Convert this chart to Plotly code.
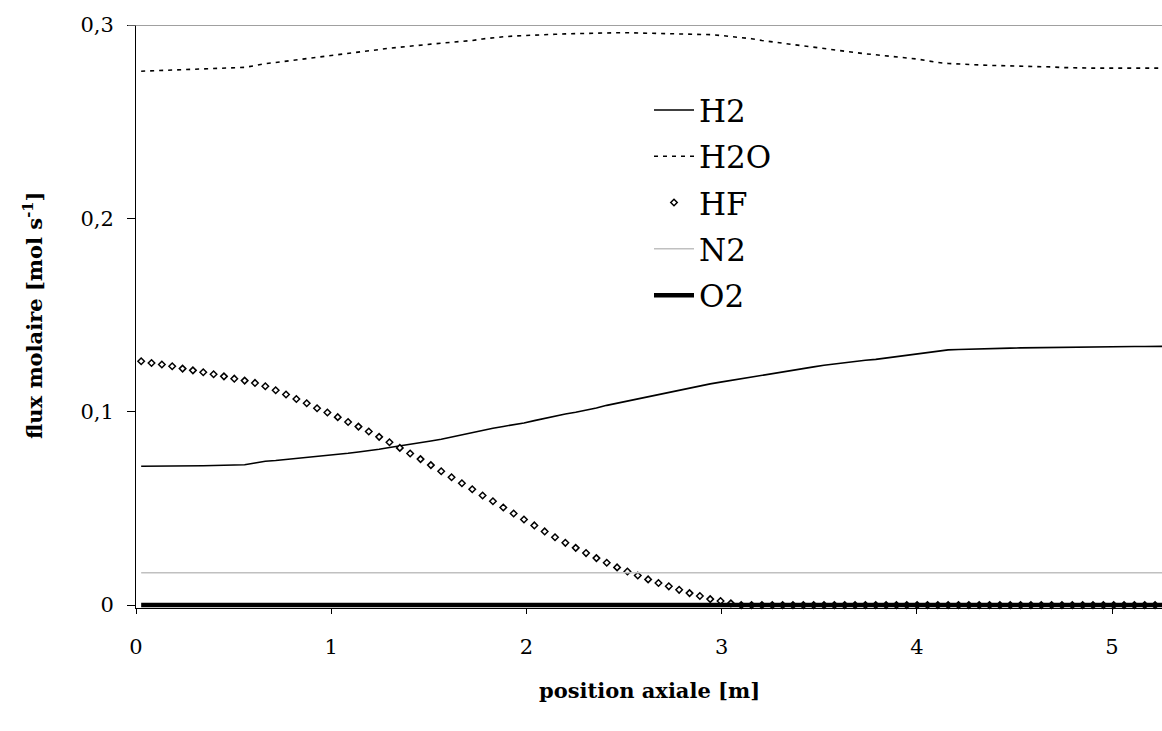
import plotly.graph_objects as go

# axial grid: 100 cells of 0.053 m, values given at the cell centres
cell_length = 0.053
position = [round((i + 0.5) * cell_length, 4) for i in range(100)]

h2 = [0.0718, 0.0718, 0.0719, 0.0719, 0.0720, 0.0720, 0.0721, 0.0722, 0.0723, 0.0724,
      0.0726, 0.0735, 0.0744, 0.0748, 0.0753, 0.0757, 0.0762, 0.0769, 0.0774, 0.0779,
      0.0785, 0.0792, 0.0798, 0.0806, 0.0815, 0.0823, 0.0830, 0.0838, 0.0849, 0.0858,
      0.0870, 0.0881, 0.0892, 0.0904, 0.0915, 0.0924, 0.0932, 0.0942, 0.0954, 0.0966,
      0.0978, 0.0988, 0.0997, 0.1007, 0.1019, 0.1033, 0.1044, 0.1055, 0.1066, 0.1077,
      0.1088, 0.1100, 0.1111, 0.1122, 0.1135, 0.1144, 0.1153, 0.1162, 0.1171, 0.1180,
      0.1190, 0.1199, 0.1207, 0.1216, 0.1225, 0.1232, 0.1240, 0.1247, 0.1254, 0.1261,
      0.1266, 0.1271, 0.1278, 0.1285, 0.1292, 0.1300, 0.1308, 0.1314, 0.1320, 0.1322,
      0.1324, 0.1326, 0.1327, 0.1328, 0.1329, 0.1330, 0.1331, 0.1332, 0.1333, 0.1334,
      0.1334, 0.1335, 0.1335, 0.1336, 0.1336, 0.1337, 0.1337, 0.1337, 0.1338, 0.1338]

h2o = [0.2761, 0.2763, 0.2765, 0.2767, 0.2769, 0.2771, 0.2773, 0.2775, 0.2777, 0.2779,
       0.2781, 0.2790, 0.2800, 0.2806, 0.2812, 0.2819, 0.2826, 0.2833, 0.2840, 0.2846,
       0.2853, 0.2860, 0.2866, 0.2873, 0.2880, 0.2886, 0.2891, 0.2896, 0.2901, 0.2906,
       0.2910, 0.2914, 0.2920, 0.2928, 0.2935, 0.2939, 0.2943, 0.2946, 0.2948, 0.2950,
       0.2952, 0.2954, 0.2956, 0.2957, 0.2958, 0.2959, 0.2960, 0.2960, 0.2959, 0.2958,
       0.2957, 0.2956, 0.2955, 0.2954, 0.2952, 0.2950, 0.2946, 0.2941, 0.2937, 0.2929,
       0.2920, 0.2912, 0.2906, 0.2899, 0.2892, 0.2885, 0.2877, 0.2870, 0.2863, 0.2857,
       0.2851, 0.2846, 0.2841, 0.2836, 0.2831, 0.2824, 0.2815, 0.2806, 0.2801, 0.2798,
       0.2795, 0.2793, 0.2791, 0.2790, 0.2789, 0.2788, 0.2787, 0.2786, 0.2783, 0.2780,
       0.2778, 0.2777, 0.2777, 0.2777, 0.2777, 0.2777, 0.2777, 0.2777, 0.2777, 0.2777]

hf = [0.1261, 0.1252, 0.1244, 0.1235, 0.1223, 0.1214, 0.1204, 0.1194, 0.1183, 0.1171,
      0.1161, 0.1149, 0.1132, 0.1111, 0.1089, 0.1066, 0.1044, 0.1018, 0.0996, 0.0972,
      0.0947, 0.0923, 0.0898, 0.0870, 0.0842, 0.0813, 0.0784, 0.0755, 0.0724, 0.0692,
      0.0661, 0.0630, 0.0599, 0.0567, 0.0537, 0.0505, 0.0474, 0.0443, 0.0412, 0.0381,
      0.0351, 0.0322, 0.0296, 0.0269, 0.0243, 0.0219, 0.0195, 0.0174, 0.0153, 0.0133,
      0.0114, 0.0097, 0.0079, 0.0062, 0.0047, 0.0031, 0.0021, 0.0009, 0.0, 0.0,
      0.0, 0.0, 0.0, 0.0, 0.0, 0.0, 0.0, 0.0, 0.0, 0.0,
      0.0, 0.0, 0.0, 0.0, 0.0, 0.0, 0.0, 0.0, 0.0, 0.0,
      0.0, 0.0, 0.0, 0.0, 0.0, 0.0, 0.0, 0.0, 0.0, 0.0,
      0.0, 0.0, 0.0, 0.0, 0.0, 0.0, 0.0, 0.0, 0.0, 0.0]

n2_value = 0.0167
o2_value = 0.0
n2 = [n2_value] * len(position)
o2 = [o2_value] * len(position)

x_ticks = [0, 1, 2, 3, 4, 5]
y_ticks = [0, 0.1, 0.2, 0.3]
y_tick_text = ["0", "0,1", "0,2", "0,3"]

FONT = "DejaVu Serif"

fig = go.Figure()
fig.add_trace(go.Scatter(x=position, y=h2, name="H2", mode="lines",
                         line=dict(color="black", width=1.6), legendgroup="a"))
fig.add_trace(go.Scatter(x=position, y=h2o, name="H2O", mode="lines",
                         line=dict(color="black", width=1.6, dash="4px,5px"), legendgroup="b"))
fig.add_trace(go.Scatter(x=position, y=hf, name="HF", mode="markers",
                         marker=dict(symbol="diamond", size=5, color="white",
                                     line=dict(color="black", width=1.5)),
                         cliponaxis=False, legendgroup="c"))
fig.add_trace(go.Scatter(x=position, y=n2, name="N2", mode="lines",
                         line=dict(color="#c0c0c0", width=1.5), legendgroup="d"))
fig.add_trace(go.Scatter(x=position, y=o2, name="O2", mode="lines",
                         line=dict(color="black", width=4.5), legendgroup="e"))

fig.update_layout(
    width=1162, height=731,
    margin=dict(l=136, r=0, t=25, b=123),
    paper_bgcolor="white", plot_bgcolor="white",
    font=dict(family=FONT, color="black", size=21),
    showlegend=True,
    legend=dict(x=0.5, y=0.9, xanchor="left", yanchor="top",
                font=dict(family=FONT, size=31, color="black"),
                bgcolor="rgba(0,0,0,0)", tracegroupgap=3, itemwidth=40),
    xaxis=dict(range=[0, 5.256], tickvals=x_ticks, ticktext=[str(v) for v in x_ticks],
               showgrid=False, zeroline=False, showline=True, linecolor="black", linewidth=1,
               ticks="outside", ticklen=5, tickcolor="black", ticklabelstandoff=15,
               tickfont=dict(family=FONT, size=21)),
    yaxis=dict(range=[-0.0015, 0.3], tickvals=y_ticks, ticktext=y_tick_text,
               showgrid=False, zeroline=False, showline=True, linecolor="black", linewidth=1,
               ticks="outside", ticklen=8, tickcolor="black", ticklabelstandoff=9,
               tickfont=dict(family=FONT, size=21)),
    shapes=[dict(type="line", xref="paper", yref="y", x0=-0.008, x1=1, y0=0.3, y1=0.3,
                 line=dict(color="#808080", width=1.5))],
    annotations=[
        dict(text="<b>position axiale [m]</b>", xref="paper", yref="paper",
             x=0.5, y=-0.1407, xanchor="center", yanchor="middle", showarrow=False,
             font=dict(family=FONT, size=21)),
        dict(text="<b>flux molaire [mol s<sup>-1</sup>]</b>", xref="paper", yref="paper",
             x=-0.1004, y=0.5026, xanchor="center", yanchor="middle", showarrow=False,
             textangle=-90, font=dict(family=FONT, size=21)),
    ],
)

fig.write_html("out.html", config={"displayModeBar": False},
               post_script="document.body.style.margin='0px';")
